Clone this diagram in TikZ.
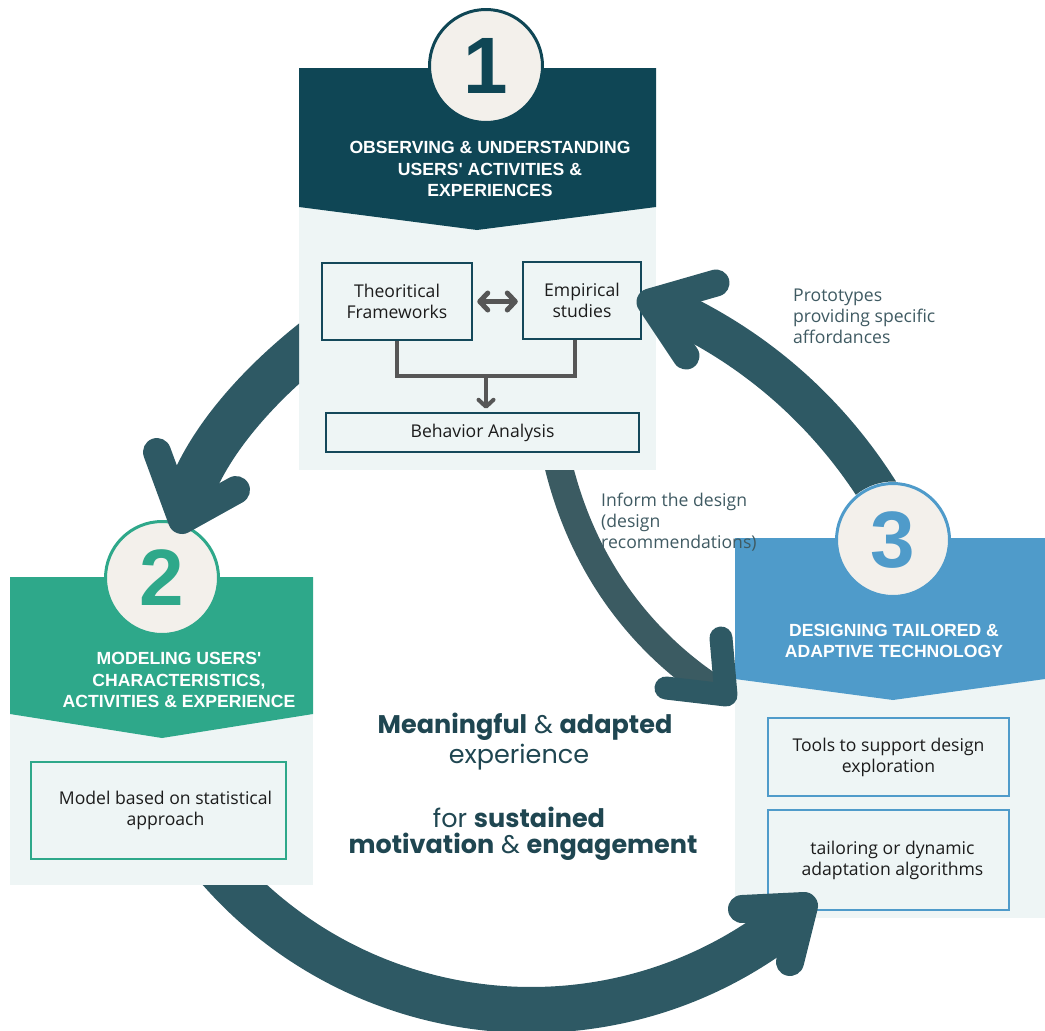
\documentclass[tikz,border=0pt]{standalone}
\usepackage{fontspec}
\setmainfont{Open Sans}
\newfontfamily\hdfont{Liberation Sans}
\newfontfamily\popfont{Poppins}
\usetikzlibrary{arrows.meta}
\definecolor{dkteal}{HTML}{0F4655}
\definecolor{boxline1}{HTML}{14485A}
\definecolor{green2}{HTML}{2EA88A}
\definecolor{blue3}{HTML}{4F9BCA}
\definecolor{lightbg}{HTML}{EEF5F5}
\definecolor{circfill}{HTML}{F3F0EB}
\definecolor{arrowc}{HTML}{2E5964}
\definecolor{arrowm}{HTML}{3B5B62}
\definecolor{labelc}{HTML}{3F5A62}
\definecolor{centc}{HTML}{1F4651}
\definecolor{gline}{HTML}{565656}
\definecolor{boxtext}{HTML}{1C1C1C}
\newcommand\mybody{\fontsize{17.6}{21}\selectfont}
\newcommand\myhead{\hdfont\bfseries\fontsize{17.6}{21.5}\selectfont}
\newcommand\mydigit{\hdfont\bfseries\fontsize{80}{80}\selectfont}
\newcommand\mycent{\popfont\fontsize{25.5}{30}\selectfont}
\begin{document}
\begin{tikzpicture}[x=1pt,y=-1pt,
  barbs/.style={draw=arrowc, line width=28pt, line cap=round, line join=round},
  box1/.style={draw=boxline1, line width=2.5pt, fill=lightbg, inner sep=0pt, align=center, text=boxtext, font=\mybody},
  box2/.style={draw=green2, line width=2.5pt, fill=lightbg, inner sep=0pt, align=center, text=boxtext, font=\mybody},
  box3/.style={draw=blue3, line width=2.5pt, fill=lightbg, inner sep=0pt, align=center, text=boxtext, font=\mybody},
  title/.style={text=white, align=center, font=\myhead, inner sep=0pt},
  digit/.style={circle, line width=3pt, fill=circfill, minimum size=113pt, inner sep=0pt, font=\mydigit},
  lbl/.style={text=labelc, align=left, anchor=west, inner sep=0pt, font=\mybody},
  cent/.style={text=centc, inner sep=0pt, font=\mycent},
  gcon/.style={draw=gline, line width=4pt},
]
\useasboundingbox (0,0) rectangle (1045,1031);
\clip (0,0) rectangle (1045,1031);

% ---------- Panel 1 ----------
\fill[lightbg] (299,207) rectangle (656,470);
\fill[dkteal] (299,68) -- (656,68) -- (656,207) -- (477,230) -- (299,207) -- cycle;
\node[title] (t1) at (490,169) {OBSERVING \& UNDERSTANDING\\USERS' ACTIVITIES \&\\EXPERIENCES};
\node[box1, minimum width=150pt, minimum height=77pt] (tf) at (397,301.5) {Theoritical\\Frameworks};
\node[box1, minimum width=118pt, minimum height=77pt] (es) at (582,300.5) {Empirical\\studies};
\node[box1, minimum width=313pt, minimum height=39pt] (ba) at (482.5,432.5) {Behavior Analysis};
\draw[gcon, line width=5pt, {Straight Barb[length=8pt,width=17pt,round]}-{Straight Barb[length=8pt,width=17pt,round]}, shorten <=4pt, shorten >=4pt] (tf.east) -- (tf.east -| es.west);
\coordinate (jn) at (486,376);
\coordinate (esx) at (575,0);
\draw[gcon, line join=miter] (tf.south) |- (jn) -| (es.south -| esx);
\draw[gcon, -{Straight Barb[length=7pt,width=15pt,round]}, shorten >=3pt] (jn) -- (jn |- ba.north);

% ---------- Panel 2 ----------
\fill[lightbg] (10,714) rectangle (313,885);
\fill[green2] (10,577) -- (313,577) -- (313,714) -- (162,738) -- (10,714) -- cycle;
\node[title] (t2) at (179,680) {MODELING USERS'\\CHARACTERISTICS,\\ACTIVITIES \& EXPERIENCE};
\node[box2, minimum width=255pt, minimum height=97pt] (mb) at (158.5,810.5) {\hspace*{14pt}Model based on statistical\\\hspace*{14pt}approach};

% ---------- Panel 3 ----------
\fill[lightbg] (735,679) rectangle (1045,918);
\fill[blue3] (735,538) -- (1045,538) -- (1045,679) -- (893,700) -- (735,679) -- cycle;
\node[title] (t3) at (894,641) {DESIGNING TAILORED \&\\ADAPTIVE TECHNOLOGY};
\node[box3, minimum width=241pt, minimum height=78pt] (tl) at (888.5,757) {Tools to support design\\exploration};
\node[box3, minimum width=241pt, minimum height=100pt] (ta) at (888.5,860) {\hspace*{8pt}tailoring or dynamic\\\hspace*{8pt}adaptation algorithms};

% ---------- Circles ----------
\node[digit, draw=dkteal, text=dkteal] (c1) at (486,66) {1};
\node[digit, draw=green2, text=green2] (c2) at (162,578) {2};
\node[digit, draw=blue3, text=blue3] (c3) at (893,540) {3};

% ---------- Big arrows ----------
% 1 -> 2
\coordinate (aS) at (345,318); \coordinate (aC1) at (270,370);
\coordinate (aC2) at (205,440); \coordinate (aE) at (186,505);
\coordinate (aT) at (182,520); \coordinate (aB1) at (157,452); \coordinate (aB2) at (236,490);
\begin{scope}[even odd rule]
\clip (0,0) rectangle (1045,1031) (299,68) rectangle (656,470);
\draw[draw=arrowc, line width=46pt] (aS) .. controls (aC1) and (aC2) .. (aE);
\end{scope}
\draw[barbs] (aB1) -- (aT) -- (aB2);

% 2 -> 3
\coordinate (bO) at (531,595);
\coordinate (bT) at (804,906); \coordinate (bB1) at (742,909); \coordinate (bB2) at (790,962);
\begin{scope}[even odd rule]
\clip (0,0) rectangle (1045,1031) (10,577) rectangle (313,885);
\draw[draw=arrowc, line width=46pt] (bO) ++(140:415) arc[start angle=140, end angle=51, radius=415];
\end{scope}
\draw[barbs] (bB1) -- (bT) -- (bB2);

% 1 -> 3 (middle)
\coordinate (mS) at (553,440); \coordinate (mC1) at (575,560);
\coordinate (mC2) at (640,640); \coordinate (mE) at (712,688);
\coordinate (mT) at (726,695); \coordinate (mB1) at (721,638); \coordinate (mB2) at (666,688);
\begin{scope}[even odd rule]
\clip (0,0) rectangle (1045,1031) (299,68) rectangle (656,470);
\draw[draw=arrowm, line width=28pt] (mS) .. controls (mC1) and (mC2) .. (mE);
\end{scope}
\draw[barbs, line width=23pt] (mB1) -- (mT) -- (mB2);

% 3 -> 1
\coordinate (rS) at (895,520); \coordinate (rC1) at (840,420);
\coordinate (rC2) at (760,350); \coordinate (rE) at (668,308);
\coordinate (rT) at (650,302); \coordinate (rB1) at (716,283); \coordinate (rB2) at (686,356);
\begin{scope}[even odd rule]
\clip (0,0) rectangle (1045,1031) (893,540) circle[radius=58.5];
\draw[draw=arrowc, line width=41pt] (rS) .. controls (rC1) and (rC2) .. (rE);
\end{scope}
\draw[barbs, line width=27pt] (rB1) -- (rT) -- (rB2);

% ---------- Labels ----------
\node[lbl] (lp) at (793,316) {Prototypes\\providing specific\\affordances};
\node[lbl] (li) at (601,522) {Inform the design\\(design\\recommendations)};

% ---------- Centre text ----------
\node[cent] (ct1) at (525,727) {\textbf{Meaningful} \& \textbf{adapted}};
\node[cent] (ct2) at (519,757) {experience};
\node[cent] (ct3) at (519,817) {for \textbf{sustained}};
\node[cent] (ct4) at (523,847) {\textbf{motivation} \& \textbf{engagement}};
\end{tikzpicture}
\end{document}
